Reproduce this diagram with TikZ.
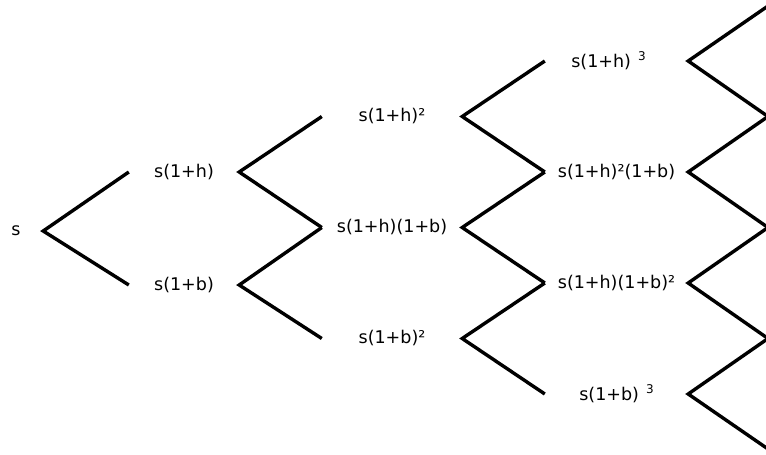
\documentclass[tikz,border=0pt]{standalone}
\usepackage{fontspec}
\setmainfont{DejaVu Sans}
\begin{document}
\begin{tikzpicture}[x=1pt,y=-1pt,
  lbl/.style={inner sep=0pt, minimum height=0pt, align=center, font=\fontsize{17.5}{19}\selectfont},
  c0/.style={lbl, minimum width=54pt},
  c1/.style={lbl, minimum width=110pt},
  c2/.style={lbl, minimum width=140pt},
  c3/.style={lbl, minimum width=143pt},
  edge/.style={line width=3.4pt, line cap=butt, line join=miter}]
\useasboundingbox (0,0) rectangle (766,455);
\fill[white] (0,0) rectangle (766,455);
% column 0
\node[c0] (n0) at (16,231) {s};
% column 1
\node[c1] (n1a) at (184,172) {s(1+h)};
\node[c1] (n1b) at (184,285) {s(1+b)};
% column 2
\node[c2] (n2a) at (392,116.5) {s(1+h)²};
\node[c2] (n2b) at (392,227.5) {s(1+h)(1+b)};
\node[c2] (n2c) at (392,338.5) {s(1+b)²};
% column 3
\node[c3] (n3a) at (616.5,61) {\hspace*{-16pt}s(1+h)\hspace{7pt}\raisebox{7pt}{\fontsize{12}{13}\selectfont 3}};
\node[c3] (n3b) at (616.5,172) {s(1+h)²(1+b)};
\node[c3] (n3c) at (616.5,283) {s(1+h)(1+b)²};
\node[c3] (n3d) at (616.5,394) {s(1+b)\hspace{7pt}\raisebox{7pt}{\fontsize{12}{13}\selectfont 3}};
% free ends at the right edge
\coordinate (e1) at (768,6);
\coordinate (e2) at (768,116.5);
\coordinate (e3) at (768,227.5);
\coordinate (e4) at (768,338.5);
\coordinate (e5) at (768,449);
% connectors
\draw[edge] (n1a.west) -- (n0.east) -- (n1b.west);
\draw[edge] (n2a.west) -- (n1a.east) -- (n2b.west);
\draw[edge] (n2b.west) -- (n1b.east) -- (n2c.west);
\draw[edge] (n3a.west) -- (n2a.east) -- (n3b.west);
\draw[edge] (n3b.west) -- (n2b.east) -- (n3c.west);
\draw[edge] (n3c.west) -- (n2c.east) -- (n3d.west);
\draw[edge] (e1) -- (n3a.east) -- (e2);
\draw[edge] (e2) -- (n3b.east) -- (e3);
\draw[edge] (e3) -- (n3c.east) -- (e4);
\draw[edge] (e4) -- (n3d.east) -- (e5);
\end{tikzpicture}
\end{document}
